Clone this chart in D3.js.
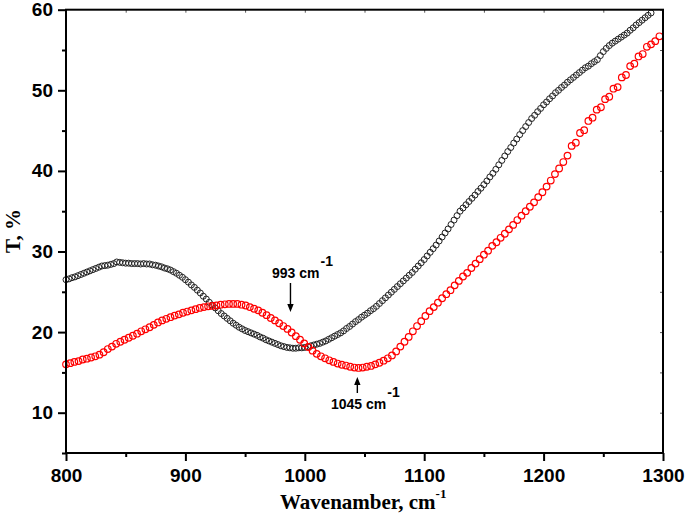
<!DOCTYPE html>
<html><head><meta charset="utf-8">
<script src="https://cdn.jsdelivr.net/npm/d3@7"></script>
<style>
body{margin:0;background:#fff}
svg{display:block}
.tick text{font-family:"Liberation Sans",Arial,sans-serif;font-weight:bold;font-size:19px;fill:#000}
</style></head>
<body><svg id="c" width="685" height="521"></svg>
<script>
// x grids
const blackStart = 800, blackStep = 2.5;
const redStart = 800, redStep = 3.5;
// black series (T, %)
const blackT = [26.5,26.6,26.75,26.85,27.0,27.15,27.3,27.45,27.6,27.75,27.9,28.05,28.2,28.25,28.3,28.4,28.5,28.7,28.65,28.6,
28.55,28.55,28.5,28.5,28.5,28.45,28.5,28.45,28.45,28.35,28.3,28.2,28.1,27.95,27.85,27.7,27.5,27.3,27.05,26.8,
26.5,26.2,25.85,25.55,25.2,24.85,24.45,24.1,23.7,23.35,23.0,22.65,22.3,22.0,21.7,21.4,21.1,20.85,20.6,20.4,
20.2,20.05,19.9,19.75,19.6,19.4,19.25,19.05,18.9,18.75,18.6,18.45,18.3,18.2,18.1,18.05,18.0,18.0,18.05,18.05,
18.1,18.2,18.3,18.4,18.5,18.6,18.75,18.9,19.1,19.3,19.5,19.7,19.9,20.15,20.45,20.7,21.0,21.3,21.55,21.85,
22.1,22.35,22.65,22.9,23.2,23.55,23.9,24.25,24.6,24.95,25.3,25.65,26.0,26.35,26.7,27.05,27.4,27.8,28.2,28.6,
29.0,29.45,29.9,30.35,30.8,31.3,31.8,32.3,32.8,33.35,33.9,34.45,35.0,35.4,35.8,36.2,36.6,37.0,37.45,37.85,
38.3,38.75,39.25,39.7,40.2,40.75,41.3,41.85,42.4,42.9,43.45,43.95,44.5,45.0,45.5,46.0,46.5,46.9,47.35,47.75,
48.2,48.55,48.95,49.3,49.7,50.0,50.35,50.65,51.0,51.3,51.6,51.9,52.2,52.5,52.8,53.0,53.3,53.55,53.8,54.3,
54.8,55.2,55.55,55.85,56.1,56.35,56.6,56.85,57.1,57.45,57.75,58.1,58.4,58.7,59.0,59.3,59.6];
// red series (T, %)
const redT = [16.0,16.15,16.3,16.4,16.6,16.7,16.85,17.0,17.2,17.5,17.9,18.2,18.55,18.8,19.05,19.3,19.55,19.8,20.1,20.35,
20.6,20.9,21.2,21.45,21.65,21.85,22.05,22.2,22.4,22.55,22.7,22.85,23.0,23.1,23.2,23.25,23.3,23.4,23.45,23.5,
23.5,23.5,23.4,23.3,23.1,22.9,22.7,22.4,22.1,21.75,21.45,21.1,20.75,20.4,19.95,19.5,19.05,18.6,18.15,17.7,
17.3,17.0,16.75,16.5,16.3,16.1,15.95,15.85,15.7,15.6,15.55,15.6,15.7,15.8,16.0,16.2,16.45,16.75,17.1,17.6,
18.2,18.8,19.4,20.1,20.75,21.35,22.0,22.6,23.1,23.65,24.2,24.7,25.2,25.8,26.35,26.9,27.35,27.95,28.5,29.05,
29.6,30.1,30.7,31.15,31.7,32.2,32.75,33.3,33.9,34.45,35.0,35.55,36.1,36.75,37.35,38.05,38.8,39.6,40.3,41.1,
41.9,43.1,43.5,44.7,45.05,46.2,46.6,47.6,47.9,48.9,49.2,50.2,50.4,51.6,51.9,53.0,53.3,54.2,54.5,55.4,
55.7,56.1,56.7];
const xTicks = [800,900,1000,1100,1200,1300];
const xMinor = [850,950,1050,1150,1250];
const yTicks = [10,20,30,40,50,60];
const yMinor = [5,15,25,35,45,55];

const svg = d3.select("#c");
const L=66, R=663, T=9.7, B=453;
const x = d3.scaleLinear().domain([800,1300]).range([L,R]);
const y = d3.scaleLinear().domain([5,60]).range([B,T]);

const blackData = blackT.map((v,i)=>({w:blackStart+i*blackStep,v}));
const redData = redT.map((v,i)=>({w:redStart+i*redStep,v}));

const gp = svg.append("g");
gp.selectAll("circle.b").data(blackData).enter().append("circle")
  .attr("cx",d=>x(d.w)).attr("cy",d=>y(d.v)).attr("r",3)
  .attr("fill","none").attr("stroke","#222").attr("stroke-width",1);
gp.selectAll("circle.r").data(redData).enter().append("circle")
  .attr("cx",d=>x(d.w)).attr("cy",d=>y(d.v)).attr("r",3.3)
  .attr("fill","none").attr("stroke","#ff0000").attr("stroke-width",1.2);

function styleAxis(g){ g.select(".domain").remove(); g.selectAll(".tick line").attr("stroke","#000").attr("stroke-width",2); }
svg.append("g").attr("transform",`translate(0,${B})`)
  .call(d3.axisBottom(x).tickValues(xTicks).tickSize(8).tickPadding(8).tickFormat(d3.format("d")))
  .call(styleAxis);
svg.append("g").attr("transform",`translate(0,${B})`)
  .call(d3.axisBottom(x).tickValues(xMinor).tickSize(4).tickFormat(""))
  .call(styleAxis);
svg.append("g").attr("transform",`translate(${L},0)`)
  .call(d3.axisLeft(y).tickValues(yTicks).tickSize(8).tickPadding(5).tickFormat(d3.format("d")))
  .call(styleAxis);
svg.append("g").attr("transform",`translate(${L},0)`)
  .call(d3.axisLeft(y).tickValues(yMinor).tickSize(4).tickFormat(""))
  .call(styleAxis);
function thin(g){ g.select(".domain").remove(); g.selectAll(".tick line").attr("stroke","#555").attr("stroke-width",1); }
svg.append("g").attr("transform",`translate(0,${T})`)
  .call(d3.axisBottom(x).tickValues(xTicks.concat(xMinor)).tickSize(3).tickFormat("")).call(thin);
svg.append("g").attr("transform",`translate(${R},0)`)
  .call(d3.axisLeft(y).tickValues(yTicks.concat(yMinor)).tickSize(3).tickFormat("")).call(thin);

svg.append("rect").attr("x",L).attr("y",T).attr("width",R-L).attr("height",B-T)
  .attr("fill","none").attr("stroke","#000").attr("stroke-width",2);

const xt = svg.append("text").attr("x",280).attr("y",509)
  .attr("font-family","'Liberation Serif','Times New Roman',serif").attr("font-weight","bold").attr("font-size",21);
xt.append("tspan").text("Wavenamber, cm");
xt.append("tspan").attr("font-size",13).attr("dy",-11).text("-1");
svg.append("text").attr("transform","translate(20,231) rotate(-90)").attr("text-anchor","middle")
  .attr("font-family","'Liberation Serif','Times New Roman',serif").attr("font-weight","bold").attr("font-size",21)
  .text("T, %");

const af = "'Liberation Sans',Arial,sans-serif";
function note(tx,ty,label){
  const t = svg.append("text").attr("x",tx).attr("y",ty).attr("font-family",af).attr("font-weight","bold").attr("font-size",14);
  t.append("tspan").text(label);
  t.append("tspan").attr("dx",1).attr("dy",-12).text("-1");
}
function arrow(ax,y1,y2){
  const dir = y2>y1?1:-1;
  svg.append("line").attr("x1",ax).attr("x2",ax).attr("y1",y1).attr("y2",y2-dir*6).attr("stroke","#000").attr("stroke-width",1.4);
  svg.append("path").attr("d",`M${ax},${y2} L${ax-3.2},${y2-dir*8} L${ax+3.2},${y2-dir*8} Z`).attr("fill","#000");
}
note(272,278,"993 cm");
arrow(x(988),283,312);
note(331,409,"1045 cm");
arrow(x(1044),393,377);
</script></body></html>
